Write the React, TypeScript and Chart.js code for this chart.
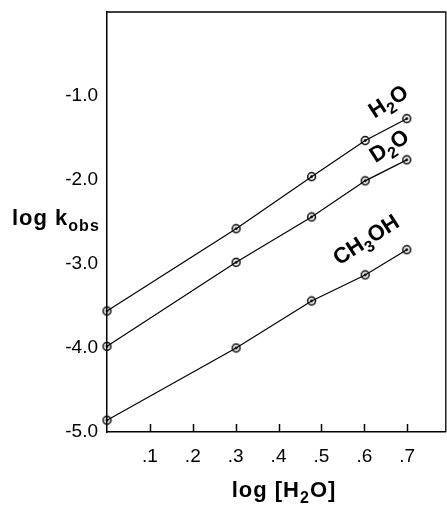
import React, { useEffect, useRef } from "react";
import { Chart, registerables } from "chart.js";

Chart.register(...registerables);

// ---- data ----
const xValues = [0, 0.301, 0.477, 0.602, 0.699];
const h2oValues = [-3.56, -2.58, -1.96, -1.53, -1.27];
const d2oValues = [-3.98, -2.98, -2.44, -2.01, -1.76];
const ch3ohValues = [-4.86, -4.0, -3.44, -3.13, -2.83];

const xTickValues = [0.1, 0.2, 0.3, 0.4, 0.5, 0.6, 0.7];
const xTickLabels = [".1", ".2", ".3", ".4", ".5", ".6", ".7"];
const yTickValues = [-5, -4, -3, -2, -1];
const yTickLabels = ["-5.0", "-4.0", "-3.0", "-2.0", "-1.0"];

type Part = { t: string; sub?: boolean };
const seriesLabels: { parts: Part[]; x: number; y: number }[] = [
  { parts: [{ t: "H" }, { t: "2", sub: true }, { t: "O" }], x: 0.624, y: -1.27 },
  { parts: [{ t: "D" }, { t: "2", sub: true }, { t: "O" }], x: 0.626, y: -1.8 },
  { parts: [{ t: "CH" }, { t: "3", sub: true }, { t: "OH" }], x: 0.541, y: -3.02 },
];

const FONT = '"Liberation Sans", Arial, Helvetica, sans-serif';

function measureRich(ctx: CanvasRenderingContext2D, parts: Part[], size: number) {
  let w = 0;
  for (const p of parts) {
    ctx.font = `bold ${p.sub ? Math.round(size * 0.72) : size}px ${FONT}`;
    w += ctx.measureText(p.t).width;
  }
  return w;
}

function drawRich(ctx: CanvasRenderingContext2D, parts: Part[], x: number, y: number, size: number) {
  ctx.textAlign = "left";
  ctx.textBaseline = "alphabetic";
  let cx = x;
  for (const p of parts) {
    const s = p.sub ? Math.round(size * 0.72) : size;
    ctx.font = `bold ${s}px ${FONT}`;
    ctx.fillText(p.t, cx, p.sub ? y + size * 0.26 : y);
    cx += ctx.measureText(p.t).width;
  }
}

function makeMarker() {
  const c = document.createElement("canvas");
  c.width = 11;
  c.height = 11;
  const g = c.getContext("2d")!;
  g.strokeStyle = "#000";
  g.fillStyle = "#000";
  g.lineWidth = 1.5;
  g.beginPath();
  g.arc(5.5, 5.5, 3.9, 0, Math.PI * 2);
  g.stroke();
  g.beginPath();
  g.arc(5.5, 5.5, 1.4, 0, Math.PI * 2);
  g.fill();
  return c;
}

const decorPlugin = {
  id: "decor",
  afterDraw(chart: any) {
    const { ctx, chartArea: a, scales } = chart;
    ctx.save();
    ctx.strokeStyle = "#000";
    ctx.fillStyle = "#000";
    ctx.lineWidth = 1.3;
    // frame top + right
    ctx.beginPath();
    ctx.moveTo(a.left, a.top);
    ctx.lineTo(a.right, a.top);
    ctx.lineTo(a.right, a.bottom);
    ctx.stroke();
    // inward x tick marks
    ctx.lineWidth = 1.5;
    ctx.beginPath();
    for (const v of xTickValues) {
      const px = Math.round(scales.x.getPixelForValue(v)) + 0.5;
      ctx.moveTo(px, a.bottom);
      ctx.lineTo(px, a.bottom - 8);
    }
    ctx.stroke();

    // series labels (rotated)
    const ang = (-33 * Math.PI) / 180;
    for (const l of seriesLabels) {
      const px = scales.x.getPixelForValue(l.x);
      const py = scales.y.getPixelForValue(l.y);
      ctx.save();
      ctx.translate(px, py);
      ctx.rotate(ang);
      drawRich(ctx, l.parts, 0, 0, 22);
      ctx.restore();
    }

    // titles
    (ctx as any).letterSpacing = "1px";
    drawRich(ctx, [{ t: "log k" }, { t: "obs", sub: true }], 12, 225, 22);
    const xt: Part[] = [{ t: "log [H" }, { t: "2", sub: true }, { t: "O]" }];
    const w = measureRich(ctx, xt, 22);
    drawRich(ctx, xt, 284 - w / 2, 497, 22);
    (ctx as any).letterSpacing = "0px";
    ctx.restore();
  },
};

export default function App() {
  const ref = useRef<HTMLCanvasElement>(null);
  useEffect(() => {
    const canvas = ref.current!;
    const marker = makeMarker();
    const mk = (vals: number[]) => ({
      data: xValues.map((x, i) => ({ x, y: vals[i] })),
      borderColor: "#000",
      borderWidth: 1.2,
      pointStyle: marker,
      pointRadius: 4,
      showLine: true,
      fill: false,
      clip: false as any,
    });
    const chart = new Chart(canvas, {
      type: "scatter",
      data: {
        datasets: [mk(h2oValues), mk(d2oValues), mk(ch3ohValues)],
      },
      options: {
        animation: false,
        responsive: false,
        devicePixelRatio: 1,
        layout: { padding: { top: 12, right: 0, left: 0, bottom: 0 } },
        plugins: { legend: { display: false }, tooltip: { enabled: false } },
        scales: {
          x: {
            type: "linear",
            min: 0,
            max: 0.79,
            grid: { display: false, drawTicks: false, tickLength: 0 },
            border: { display: true, color: "#000", width: 1.5 },
            afterBuildTicks: (s: any) => {
              s.ticks = xTickValues.map((v) => ({ value: v }));
            },
            afterFit: (s: any) => {
              s.height = 78;
              s.paddingLeft = 0;
              s.paddingRight = 0;
            },
            ticks: {
              color: "#000",
              font: { family: FONT, size: 19 },
              padding: 13,
              maxRotation: 0,
              autoSkip: false,
              callback: (v: any) => {
                const i = xTickValues.findIndex((t) => Math.abs(t - Number(v)) < 1e-6);
                return i >= 0 ? xTickLabels[i] : "";
              },
            },
          },
          y: {
            type: "linear",
            min: -5,
            max: 0,
            grid: { display: false, drawTicks: false, tickLength: 0 },
            border: { display: true, color: "#000", width: 1.5 },
            afterBuildTicks: (s: any) => {
              s.ticks = yTickValues.map((v) => ({ value: v }));
            },
            afterFit: (s: any) => {
              s.width = 107;
              s.paddingTop = 0;
              s.paddingBottom = 0;
            },
            ticks: {
              color: "#000",
              font: { family: FONT, size: 19 },
              padding: 9,
              autoSkip: false,
              callback: (v: any) => {
                const i = yTickValues.findIndex((t) => Math.abs(t - Number(v)) < 1e-6);
                return i >= 0 ? yTickLabels[i] : "";
              },
            },
          },
        },
      },
      plugins: [decorPlugin],
    });
    return () => chart.destroy();
  }, []);
  return (
    <div style={{ position: "fixed", left: 0, top: 0, width: 447, height: 510, overflow: "hidden", background: "#fff" }}>
      <canvas ref={ref} width={451} height={510} style={{ display: "block" }} />
    </div>
  );
}
